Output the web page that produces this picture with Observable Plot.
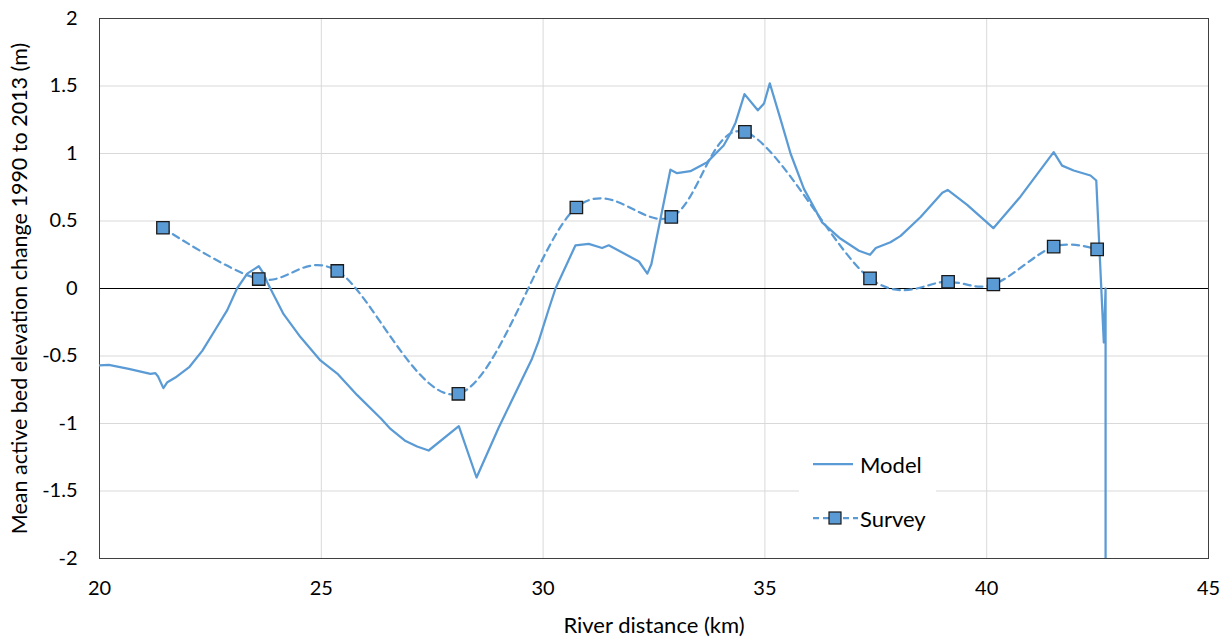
<!DOCTYPE html>
<html>
<head>
<meta charset="utf-8">
<script src="https://cdn.jsdelivr.net/npm/d3@7"></script>
<script src="https://cdn.jsdelivr.net/npm/@observablehq/plot@0.6"></script>
<style>
  html, body { margin: 0; padding: 0; background: #fff; }
  #wrap { position: relative; width: 1229px; height: 638px; font-family: Lato, "Open Sans", sans-serif; }
  #legend { position: absolute; left: 799px; top: 444px; width: 137px; height: 102px; background: #fff; font-size: 22px; color: #000; }
  #legend .row { position: absolute; left: 12px; display: flex; align-items: center; }
  #legend svg { display: block; }
</style>
</head>
<body>
<div id="wrap">
  <div id="chart"></div>
  <div id="legend">
    <div class="row" style="top:6px"><svg width="49" height="28"><line x1="2" x2="42" y1="14" y2="14" stroke="#5B9BD5" stroke-width="2.25"/></svg><span>Model</span></div>
    <div class="row" style="top:60px"><svg width="49" height="28"><line x1="2" x2="47" y1="14" y2="14" stroke="#5B9BD5" stroke-width="2.25" stroke-dasharray="6,4"/><rect x="18" y="8" width="12" height="12" fill="#5B9BD5" stroke="#1a1a1a" stroke-width="1.2"/></svg><span>Survey</span></div>
  </div>
</div>
<script>
// Model (simulated) mean active bed elevation change
const modelDist = [20.00, 20.21, 20.66, 21.15, 21.26, 21.32, 21.44, 21.53, 21.71, 22.03, 22.32, 22.62, 22.88, 23.10, 23.33, 23.59, 23.70, 23.78, 24.15, 24.53, 24.98, 25.36, 25.81, 26.35, 26.56, 26.90, 27.16, 27.42, 28.10, 28.50, 29.00, 29.75, 29.90, 30.13, 30.28, 30.73, 31.03, 31.33, 31.48, 32.16, 32.35, 32.44, 32.87, 33.02, 33.32, 33.70, 34.07, 34.22, 34.34, 34.54, 34.84, 34.98, 35.11, 35.35, 35.58, 35.88, 36.29, 36.70, 37.12, 37.37, 37.50, 37.83, 38.06, 38.51, 39.00, 39.12, 39.56, 40.15, 40.76, 41.51, 41.70, 41.96, 42.34, 42.47, 42.64, 42.68, 42.68];
const modelChange = [-0.57, -0.565, -0.595, -0.632, -0.627, -0.652, -0.738, -0.694, -0.66, -0.58, -0.46, -0.30, -0.16, 0.00, 0.11, 0.165, 0.11, 0.047, -0.19, -0.36, -0.533, -0.63, -0.79, -0.965, -1.04, -1.13, -1.17, -1.20, -1.02, -1.40, -1.03, -0.52, -0.39, -0.15, 0.00, 0.32, 0.33, 0.30, 0.32, 0.20, 0.11, 0.18, 0.88, 0.854, 0.869, 0.936, 1.059, 1.146, 1.23, 1.44, 1.32, 1.37, 1.52, 1.257, 0.998, 0.738, 0.49, 0.37, 0.28, 0.25, 0.30, 0.343, 0.39, 0.53, 0.71, 0.73, 0.62, 0.447, 0.68, 1.01, 0.91, 0.874, 0.837, 0.80, -0.40, 0.00, -2.00];

// Survey values
const surveyDist = [21.43, 23.59, 25.36, 28.09, 30.75, 32.89, 34.55, 37.37, 39.13, 40.15, 41.51, 42.49];
const surveyChange = [0.45, 0.07, 0.13, -0.78, 0.60, 0.53, 1.16, 0.075, 0.05, 0.03, 0.31, 0.29];

// Axis ticks
const xTicks = [20, 25, 30, 35, 40, 45];
const yTicks = [-2, -1.5, -1, -0.5, 0, 0.5, 1, 1.5, 2];
const xGrid = [25, 30, 35, 40];
const yGrid = [-1.5, -1, -0.5, 0.5, 1, 1.5];

const xLabel = "River distance (km)";
const yLabel = "Mean active bed elevation change 1990 to 2013 (m)";

const model = modelDist.map((d, i) => ({x: d, y: modelChange[i]}));
const survey = surveyDist.map((d, i) => ({x: d, y: surveyChange[i]}));

const blue = "#5B9BD5";

const chart = Plot.plot({
  width: 1229,
  height: 638,
  marginLeft: 99,
  marginRight: 21,
  marginTop: 18,
  marginBottom: 80,
  style: {fontFamily: "Lato, 'Open Sans', sans-serif", fontSize: "20px", color: "#000", background: "#fff"},
  x: {domain: [20, 45]},
  y: {domain: [-2, 2]},
  marks: [
    Plot.gridX(xGrid, {stroke: "#d9d9d9", strokeOpacity: 1, strokeWidth: 1}),
    Plot.gridY(yGrid, {stroke: "#d9d9d9", strokeOpacity: 1, strokeWidth: 1}),
    Plot.ruleY([0], {stroke: "#000", strokeWidth: 1.2}),
    Plot.frame({stroke: "#404040", strokeWidth: 1}),
    Plot.line(model, {x: "x", y: "y", stroke: blue, strokeWidth: 2.25, clip: true}),
    Plot.line(survey, {x: "x", y: "y", stroke: blue, strokeWidth: 2.25, strokeDasharray: "7,5", curve: "cardinal"}),
    Plot.dot(survey, {x: "x", y: "y", symbol: "square", r: 7, fill: blue, stroke: "#1a1a1a", strokeWidth: 1.3}),
    Plot.axisX(xTicks, {tickSize: 0, tickPadding: 22, fontSize: 20, label: null, tickFormat: d => String(d)}),
    Plot.axisY(yTicks, {tickSize: 0, tickPadding: 22, fontSize: 20, label: null, tickFormat: d => String(d)}),
    Plot.text([xLabel], {frameAnchor: "bottom", dy: 67, text: d => d, fontSize: 22, lineAnchor: "middle", fill: "#000"}),
    Plot.text([yLabel], {frameAnchor: "left", dx: -79, rotate: -90, text: d => d, fontSize: 21.5, lineAnchor: "middle", textAnchor: "middle", fill: "#000"})
  ]
});
document.getElementById("chart").appendChild(chart);
</script>
</body>
</html>
